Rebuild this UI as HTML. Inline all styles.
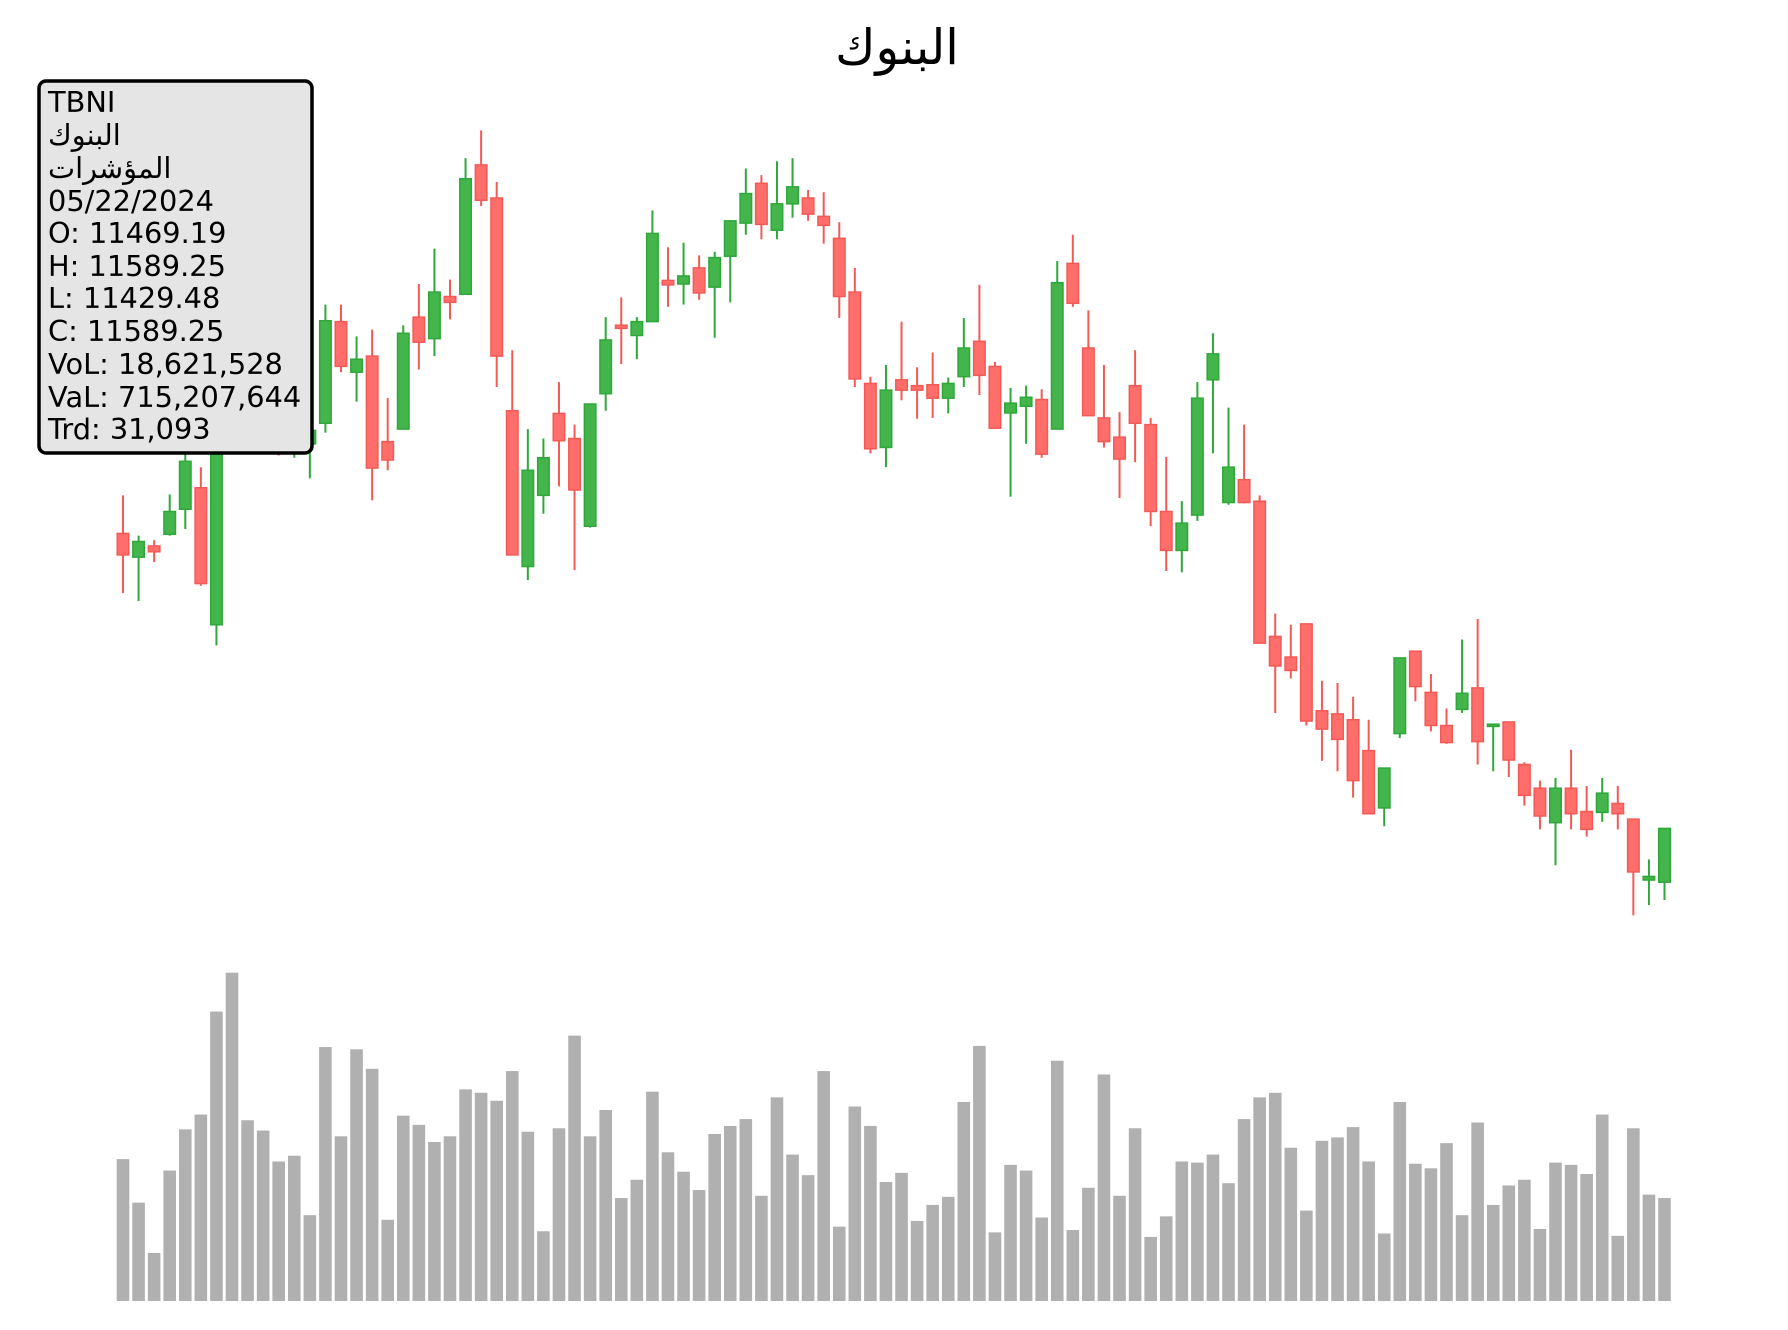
<!DOCTYPE html>
<html><head><meta charset="utf-8">
<style>
html,body{margin:0;padding:0;background:#fff;}
svg{display:block;}
text{font-family:"DejaVu Sans","Liberation Sans","Noto Sans CJK SC",sans-serif;}
</style></head>
<body>
<svg id="chart" width="1788" height="1330" viewBox="0 0 1788 1330" xmlns="http://www.w3.org/2000/svg">
<rect width="1788" height="1330" fill="#fff"/>
<text x="897" y="64" font-size="49" text-anchor="middle" fill="#000">البنوك</text>
<g id="vol"></g>
<g id="candles"></g>
<g>
<rect x="39" y="81" width="273" height="372" rx="7" ry="7" fill="#e5e5e5" stroke="#000" stroke-width="3.5"/>
<text font-size="28.8" fill="#000">
<tspan x="48" y="112">TBNI</tspan>
<tspan x="48" y="145">البنوك</tspan>
<tspan x="48" y="178">المؤشرات</tspan>
<tspan x="48" y="211">05/22/2024</tspan>
<tspan x="48" y="243">O: 11469.19</tspan>
<tspan x="48" y="276">H: 11589.25</tspan>
<tspan x="48" y="308">L: 11429.48</tspan>
<tspan x="48" y="341">C: 11589.25</tspan>
<tspan x="48" y="374">VoL: 18,621,528</tspan>
<tspan x="48" y="407">VaL: 715,207,644</tspan>
<tspan x="48" y="439">Trd: 31,093</tspan>
</text>
</g>
</svg>
<script>
const opens=[12248,12195,12220,12246,12302,12350,12044,12494,12545,12453,12519,12435,12448,12494,12721,12608,12644,12453,12481,12731,12683,12777,12782,13071,12997,12522,12174,12333,12516,12460,12264,12560,12713,12690,12721,12813,12805,12841,12798,12867,12941,13030,12925,12984,12997,12956,12907,12787,12583,12440,12591,12578,12580,12550,12598,12677,12621,12517,12532,12547,12481,12851,12662,12506,12463,12578,12491,12297,12210,12289,12591,12317,12368,12320,12018,11972,12046,11852,11845,11832,11763,11635,11801,11985,11893,11819,11855,11903,11817,11827,11732,11679,11602,11679,11627,11625,11645,11610,11474,11469.19];
const closes=[12200,12230,12207,12297,12409,12136,12499,12550,12460,12524,12442,12486,12478,12723,12621,12637,12394,12412,12695,12675,12787,12764,13040,12992,12644,12200,12389,12417,12455,12345,12537,12680,12706,12721,12918,12803,12823,12785,12864,12946,13007,12938,12984,13022,12961,12936,12777,12593,12437,12568,12568,12568,12550,12583,12662,12601,12483,12539,12552,12425,12808,12762,12511,12453,12414,12494,12297,12210,12271,12550,12649,12396,12317,12003,11952,11942,11829,11811,11788,11696,11622,11724,11970,11906,11819,11781,11891,11783,11822,11742,11663,11617,11679,11622,11587,11668,11622,11492,11482,11589.25];
const highs=[12333,12243,12233,12335,12435,12396,12511,12575,12562,12550,12537,12504,12494,12759,12759,12688,12703,12550,12713,12805,12884,12815,13086,13148,13033,12657,12481,12460,12586,12491,12537,12731,12775,12731,12969,12887,12897,12869,12877,12946,13063,13048,13079,13086,13015,13010,12943,12841,12598,12624,12721,12619,12652,12596,12729,12803,12631,12573,12578,12570,12856,12915,12746,12624,12519,12657,12506,12419,12320,12586,12695,12529,12491,12333,12069,12044,12046,11919,11914,11883,11832,11724,11970,11985,11934,11857,12011,12057,11822,11827,11737,11696,11702,11765,11684,11702,11684,11610,11520,11589.25];
const lows=[12115,12097,12184,12243,12258,12131,11998,12473,12442,12435,12422,12417,12371,12473,12608,12542,12322,12389,12481,12614,12644,12726,12782,12979,12575,12200,12144,12292,12353,12166,12261,12522,12626,12637,12721,12754,12759,12770,12685,12764,12915,12905,12905,12953,12946,12895,12729,12575,12427,12396,12545,12504,12506,12516,12575,12557,12483,12330,12448,12417,12481,12754,12511,12440,12327,12407,12264,12164,12161,12276,12427,12312,12315,12003,11847,11924,11819,11740,11717,11658,11622,11594,11791,11873,11806,11778,11847,11732,11717,11704,11640,11587,11507,11587,11571,11604,11587,11395,11418,11429.48];
const volumesM=[25.66,17.79,8.69,23.59,31.04,33.72,52.35,59.38,32.69,30.83,25.24,26.28,15.52,45.93,29.79,45.52,42.00,14.69,33.52,31.86,28.76,29.79,38.28,37.66,36.21,41.59,30.62,12.62,31.24,48.00,29.79,34.55,18.62,21.93,37.86,26.90,23.38,20.07,30.21,31.66,32.90,19.03,36.83,26.48,22.76,41.59,13.45,35.17,31.66,21.52,23.17,14.48,17.38,18.83,36.00,46.14,12.41,24.62,23.59,15.10,43.45,12.83,20.48,40.97,19.03,31.24,11.59,15.31,25.24,25.03,26.48,21.31,32.90,36.83,37.66,27.72,16.35,28.97,29.59,31.45,25.24,12.21,36.00,24.83,24.00,28.55,15.52,32.28,17.38,20.90,21.93,13.03,25.03,24.62,22.97,33.72,11.79,31.24,19.24,18.62];

const NS='http://www.w3.org/2000/svg';
const X0=123, X1=1664.5;
const n=opens.length;
const step=(X1-X0)/(n-1);
function xScale(i){return X0+i*step;}
const PTOP=13439.2, K=0.4478;
function yScale(p){return (PTOP-p)*K;}
const VBASE=1301, VK=5.529;
function vScale(v){return VBASE-v*VK;}

const vg=document.getElementById('vol');
const cg=document.getElementById('candles');
const bw=11.5, vw=12.6;
for(let i=0;i<n;i++){
  const x=xScale(i);
  const vb=document.createElementNS(NS,'rect');
  const vt=vScale(volumesM[i]);
  vb.setAttribute('x',x-vw/2);vb.setAttribute('y',vt);
  vb.setAttribute('width',vw);vb.setAttribute('height',VBASE-vt);
  vb.setAttribute('fill','#b0b0b0');
  
  
  vg.appendChild(vb);

  const up=closes[i]>=opens[i];
  const stroke=up?'#2ea83a':'#f45a55';
  const fill=up?'#43b54b':'#ff6e6a';
  const wick=document.createElementNS(NS,'line');
  wick.setAttribute('x1',x);wick.setAttribute('x2',x);
  wick.setAttribute('y1',yScale(highs[i]));wick.setAttribute('y2',yScale(lows[i]));
  wick.setAttribute('stroke',stroke);wick.setAttribute('stroke-width','2');
  
  
  cg.appendChild(wick);
  const top=yScale(Math.max(opens[i],closes[i]));
  const bot=yScale(Math.min(opens[i],closes[i]));
  const body=document.createElementNS(NS,'rect');
  body.setAttribute('x',x-bw/2);body.setAttribute('y',top);
  body.setAttribute('width',bw);body.setAttribute('height',Math.max(bot-top,1.5));
  body.setAttribute('fill',fill);body.setAttribute('stroke',stroke);body.setAttribute('stroke-width','1.5');
  
  
  cg.appendChild(body);
}
</script>
</body></html>
